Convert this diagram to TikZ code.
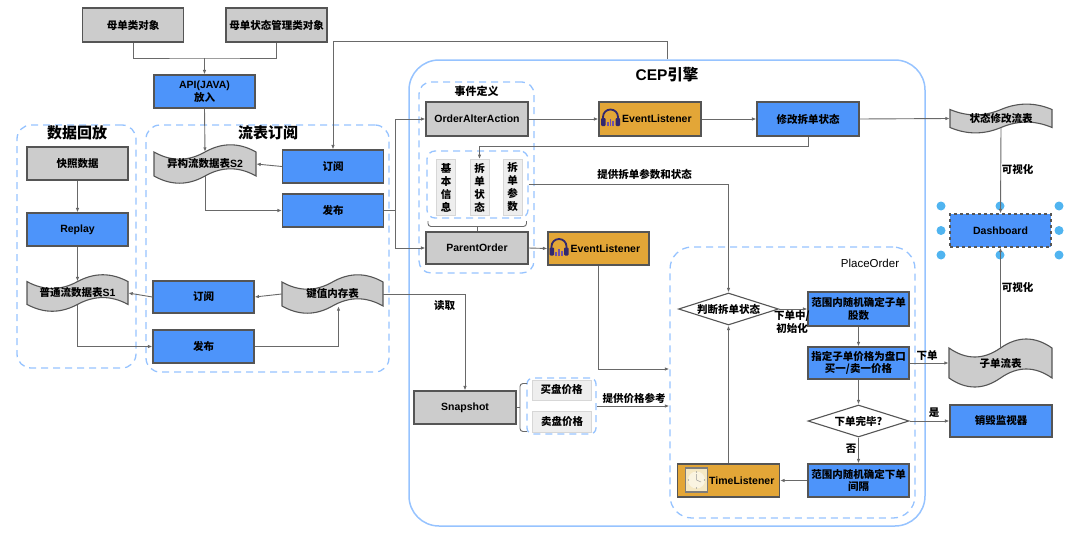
\documentclass[tikz,border=0pt]{standalone}
\usepackage{fontspec}
\setmainfont{Liberation Sans}
\newfontfamily\cjk{Noto Sans CJK SC}
\usetikzlibrary{arrows.meta,shapes.geometric,calc}
\definecolor{gfill}{RGB}{204,204,204}
\definecolor{bfill}{RGB}{77,148,250}
\definecolor{ofill}{RGB}{227,166,55}
\definecolor{edgeC}{RGB}{85,85,85}
\definecolor{lineC}{RGB}{105,105,105}
\definecolor{frameC}{RGB}{150,195,255}
\definecolor{dotC}{RGB}{80,180,240}
\definecolor{lgfill}{RGB}{238,238,238}
\definecolor{lgedge}{RGB}{215,215,215}
\definecolor{hpC}{RGB}{50,40,110}
\definecolor{hpB}{RGB}{110,80,170}
\definecolor{clkF}{RGB}{245,232,195}
\definecolor{clkE}{RGB}{125,125,125}
\newcommand\zh[1]{{\cjk #1}}
\newcommand\fs{\fontsize{10.5}{12.5}\selectfont\bfseries}
\newcommand\tfs{\fontsize{15}{18}\selectfont\bfseries}
\newcommand\tapenode[6]{%
  \pgfmathsetmacro\tL{#2-#4/2}%
  \pgfmathsetmacro\tR{#2+#4/2}%
  \pgfmathsetmacro\tS{#4/6}%
  \pgfmathsetmacro\tSS{#4/3}%
  \pgfmathsetmacro\tdy{0.4*#5}%
  \pgfmathsetmacro\tT{#3-#5/2+\tdy/2}%
  \pgfmathsetmacro\tB{#3+#5/2-\tdy/2}%
  \pgfmathsetmacro\tA{0.6*\tdy}%
  \pgfmathsetmacro\tH{#5-\tdy}%
  \draw[tapestyle] (\tL,\tT)
    .. controls ({\tL+\tS},{\tT+\tA}) and ({\tL+\tSS},{\tT+\tA}) .. (#2,\tT)
    .. controls ({#2+\tS},{\tT-\tA}) and ({#2+\tSS},{\tT-\tA}) .. (\tR,\tT)
    -- (\tR,\tB)
    .. controls ({\tR-\tS},{\tB-\tA}) and ({\tR-\tSS},{\tB-\tA}) .. (#2,\tB)
    .. controls ({#2-\tS},{\tB+\tA}) and ({#2-\tSS},{\tB+\tA}) .. (\tL,\tB) -- cycle;
  \node[tapetext, minimum width=#4pt, minimum height=\tH pt] (#1) at (#2,#3) {#6};
}
\begin{document}
\begin{tikzpicture}[x=1pt,y=-1pt,
  box/.style={draw=edgeC, line width=1.1pt, minimum width=101pt, minimum height=33pt, inner sep=0pt, font=\fs, align=center},
  gbox/.style={box, fill=gfill},
  bbox/.style={box, fill=bfill},
  obox/.style={box, fill=ofill},
  vbox/.style={draw=lgedge, fill=lgfill, line width=0.8pt, minimum width=19pt, minimum height=56pt, inner sep=0pt, align=center, font=\fontsize{10.5}{13}\selectfont\bfseries\cjk},
  pbox/.style={draw=lgedge, fill=lgfill, line width=0.8pt, minimum width=59pt, minimum height=20pt, inner sep=0pt, font=\fs},
  diam/.style={diamond, draw=edgeC, fill=white, line width=1.1pt, inner sep=0pt, minimum width=100pt, minimum height=32pt},
  tapestyle/.style={draw=edgeC, fill=gfill, line width=1.1pt},
  tapetext/.style={inner sep=0pt, font=\fs},
  conn/.style={draw=lineC, line width=0.9pt},
  arr/.style={conn, -{Latex[length=4.5pt,width=3.5pt]}},
  dframe/.style={draw=frameC, line width=1.3pt, dash pattern=on 7pt off 5pt, rounded corners=14pt, inner sep=0pt},
  cepframe/.style={draw=frameC, line width=1.5pt, rounded corners=30pt, inner sep=0pt},
  ttl/.style={font=\tfs, inner sep=0pt},
  lbl/.style={font=\fs, inner sep=0pt, align=center},
  hp/.pic={
    \draw[hpC, line width=1.8pt] (-7.5,2) -- (-7.5,-1) arc[start angle=180,end angle=360,radius=7.5] -- (7.5,2);
    \fill[hpC, rounded corners=1pt] (-9.5,0) rectangle (-5,8);
    \fill[hpC, rounded corners=1pt] (5,0) rectangle (9.5,8);
    \fill[hpB] (-3.6,4) rectangle (-1.8,8);
    \fill[hpB] (-0.9,1) rectangle (0.9,8);
    \fill[hpB] (1.8,3) rectangle (3.6,8);
  },
  clk/.pic={
    \draw[draw=clkE, line width=1.6pt, fill=clkF] (-11,-12) rectangle (11,12);
    \fill[white!50!clkF] (0,0) circle (8.5);
    \draw[clkE!80, line width=0.5pt] (0,0) -- (0,-6) (0,0) -- (4.5,2);
    \foreach \a in {0,90,180,270} \fill[clkE] (\a:8) circle (0.7);
  }
]
\useasboundingbox (0,0) rectangle (1080,549);

% ---------- frames ----------
\node[dframe, minimum width=119pt, minimum height=243pt] (fr1) at (76.5,246.5) {};
\node[dframe, minimum width=243pt, minimum height=247pt] (fr2) at (267.5,248.5) {};
\node[cepframe, minimum width=516pt, minimum height=466pt] (cep) at (667,293) {};
\node[dframe, rounded corners=12pt, minimum width=115pt, minimum height=191pt] (evdef) at (476.5,177.5) {};
\node[dframe, rounded corners=22pt, minimum width=245pt, minimum height=271pt] (place) at (792.5,382.5) {};
\node[dframe, rounded corners=8pt, minimum width=101pt, minimum height=67pt] (inner) at (477.5,184.5) {};
\node[dframe, rounded corners=6pt, minimum width=69pt, minimum height=56pt] (pframe) at (561.5,406) {};

% ---------- titles ----------
\node[ttl] (t1) at (77,133) {\zh{数据回放}};
\node[ttl] (t2) at (268,133) {\zh{流表订阅}};
\node[ttl, font=\fontsize{15.5}{18}\selectfont\bfseries] (t3) at (667,75) {CEP\zh{引擎}};
\node[lbl, font=\fontsize{11}{13}\selectfont\bfseries] (t4) at (476.5,91) {\zh{事件定义}};
\node[lbl, font=\fontsize{11.5}{13}\selectfont] (t5) at (870,263) {PlaceOrder};

% ---------- top ----------
\node[gbox, minimum height=34pt] (m1) at (133,25) {\zh{母单类对象}};
\node[gbox, minimum height=34pt] (m2) at (276.5,25) {\zh{母单状态管理类对象}};
\node[bbox] (api) at (204.5,91.5) {API(JAVA)\\\zh{放入}};

% ---------- 数据回放 ----------
\node[gbox] (snapdata) at (77.5,163.5) {\zh{快照数据}};
\node[bbox] (replay) at (77.5,229.5) {Replay};
\tapenode{s1}{77.5}{293}{101}{38}{\zh{普通流数据表}S1}

% ---------- 流表订阅 ----------
\tapenode{s2}{205}{164}{102}{40}{\zh{异构流数据表}S2}
\node[bbox] (sub1) at (333,166.5) {\zh{订阅}};
\node[bbox] (pub1) at (333,210.5) {\zh{发布}};
\node[bbox, minimum height=32pt] (sub2) at (203.5,297) {\zh{订阅}};
\node[bbox] (pub2) at (203.5,346.5) {\zh{发布}};
\tapenode{kv}{332.5}{294}{101}{40}{\zh{键值内存表}}

% ---------- 事件定义 ----------
\node[gbox, minimum width=102pt, minimum height=34pt] (oaa) at (477,119) {OrderAlterAction};
\node[vbox] (vb1) at (446,187.5) {基\\本\\信\\息};
\node[vbox] (vb2) at (479.5,187.5) {拆\\单\\状\\态};
\node[vbox] (vb3) at (512.5,187.5) {拆\\单\\参\\数};
\node[gbox, minimum width=102pt, minimum height=32pt] (po) at (477,248) {ParentOrder};
\draw[conn, rounded corners=3pt] (428,221) |- (526.5,226.5) -- (526.5,221);
\draw[conn] (po.north) -- (po.north |- 0,226.5);

% ---------- listeners ----------
\node[obox, minimum width=102pt, minimum height=34pt] (el1) at (650,119) {};
\pic at (610.5,118) {hp};
\node[lbl, anchor=west] (el1t) at (622,119) {EventListener};
\node[bbox, minimum width=102pt, minimum height=34pt] (mod) at (808,119) {\zh{修改拆单状态}};
\node[obox, minimum height=33pt] (el2) at (598.5,248.5) {};
\pic at (559,247.5) {hp};
\node[lbl, anchor=west] (el2t) at (570.5,248.5) {EventListener};

% ---------- snapshot ----------
\node[gbox, minimum width=102pt] (snap) at (465,407.5) {Snapshot};
\node[pbox] (buy) at (561.5,390) {\zh{买盘价格}};
\node[pbox, minimum height=21pt] (sell) at (562,421.5) {\zh{卖盘价格}};
\draw[conn, rounded corners=3pt] (527,383.5) -| (520,431.5) -- (527,431.5);
\draw[conn] (snap.east) -- (snap.east -| 520,0);

% ---------- PlaceOrder ----------
\node[diam] (judge) at (728.5,309) {};
\node[lbl] (judget) at (judge) {\zh{判断拆单状态}};
\node[bbox, minimum height=34pt] (r1) at (858.5,309) {\zh{范围内随机确定子单}\\\zh{股数}};
\node[bbox, minimum height=32pt] (assign) at (858.5,363) {\zh{指定子单价格为盘口}\\\zh{买一/卖一价格}};
\node[diam, minimum width=101pt] (done) at (858.5,421) {};
\node[lbl] (donet) at (done) {\zh{下单完毕?}};
\node[bbox] (r2) at (858.5,480.5) {\zh{范围内随机确定下单}\\\zh{间隔}};
\node[obox, minimum width=102pt] (tl) at (728.5,480.5) {};
\pic at (696.5,480) {clk};
\node[lbl, anchor=west] (tlt) at (709,480.5) {TimeListener};

% ---------- right side ----------
\tapenode{smt}{1001}{118.5}{102}{30}{\zh{状态修改流表}}
\node[bbox, dashed, draw=edgeC] (dash) at (1000.5,230.5) {Dashboard};
\tapenode{child}{1000.5}{363}{103}{50}{\zh{子单流表}}
\node[bbox, minimum width=102pt, minimum height=32pt] (destroy) at (1001,421) {\zh{销毁监视器}};
\foreach \x/\y in {941/206, 1000/206, 1059/206, 941/230.5, 1059/230.5, 941/255, 1000/255, 1059/255}
  \fill[dotC] (\x,\y) circle (4.5);

% ---------- connectors ----------
\coordinate (mj) at (204.5,58);
\draw[conn] (m1.south) |- (mj) -| (m2.south);
\draw[arr] (mj) -- (api.north);
\draw[arr] (api.south) -- (s2.north);
\draw[arr] (sub1.west) -- (s2.east);
\draw[arr] (s2.south) |- (pub1.west);
\draw[arr] (cep.north) -- ++(0,-18) -| (sub1.north);
\draw[arr] (pub1.east) -- ++(11,0) |- (oaa.west);
\draw[arr] (pub1.east) -- ++(11,0) |- (po.west);
\draw[arr] (snapdata.south) -- (replay.north);
\draw[arr] (replay.south) -- (s1.north);
\draw[arr] (s1.south) |- (pub2.west);
\draw[arr] (kv.west) -- (sub2.east);
\draw[arr] (sub2.west) -- (s1.east);
\draw[arr] (pub2.east) -| ($(kv.south)+(6,0)$);
\draw[arr] (kv.east) -| (snap.north);
\node[lbl] (lread) at (444.5,306) {\zh{读取}};
\draw[arr] (oaa.east) -- (el1.west);
\draw[arr] (el1.east) -- (mod.west);
\draw[arr] (mod.east) -- (smt.west);
\draw[arr] (mod.south) -- ++(0,10) -| (vb2.north);
\draw[arr] (inner.east) -| (judge.north);
\node[lbl] (lparam) at (644.5,174) {\zh{提供拆单参数和状态}};
\draw[arr] (po.east) -- (el2.west);
\draw[arr] (el2.south) |- ($(place.west)+(0,-13.5)$);
\draw[arr] (pframe.east) -- (pframe.east -| place.west);
\node[lbl] (lprice) at (634,398) {\zh{提供价格参考}};
\draw[arr] (judge.east) -- (r1.west);
\node[lbl, font=\fontsize{10.5}{13}\selectfont\bfseries] (linit) at (792,322.5) {\zh{下单中/}\\\zh{初始化}};
\draw[arr] (r1.south) -- (assign.north);
\draw[arr] (assign.east) -- (child.west);
\node[lbl] (lorder) at (927,356) {\zh{下单}};
\draw[arr] (assign.south) -- (done.north);
\draw[arr] (done.east) -- (destroy.west);
\node[lbl] (lyes) at (934,413) {\zh{是}};
\draw[arr] (done.south) -- (r2.north);
\node[lbl] (lno) at (851,449) {\zh{否}};
\draw[arr] (r2.west) -- (tl.east);
\draw[arr] (tl.north) -- (judge.south);
\draw[arr] (smt.south) -- (dash.north);
\node[lbl] (lvis1) at (1017.5,169) {\zh{可视化}};
\draw[arr] (child.north) -- (dash.south);
\node[lbl] (lvis2) at (1017.5,287) {\zh{可视化}};
\end{tikzpicture}
\end{document}
